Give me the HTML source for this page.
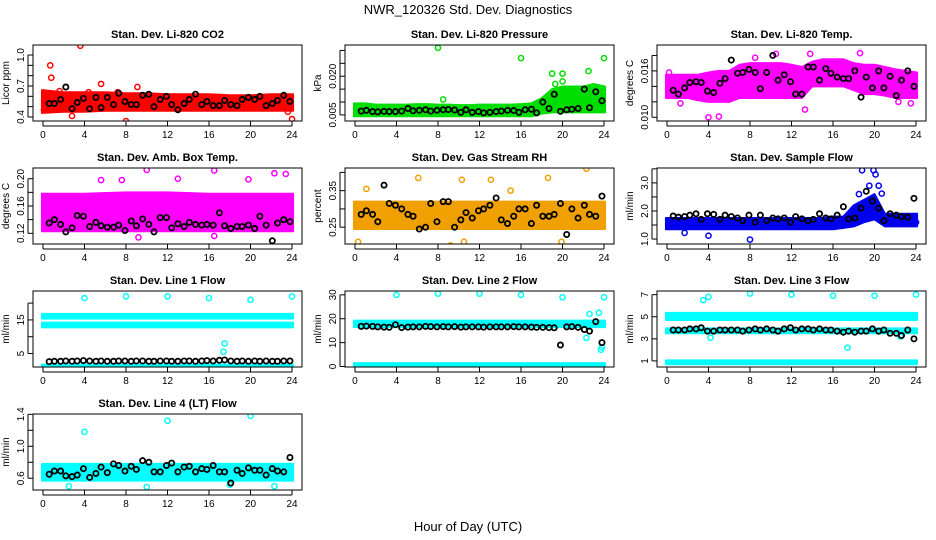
<!DOCTYPE html>
<html><head><meta charset="utf-8"><style>
html,body{margin:0;padding:0;background:#fff;}
svg{display:block;font-family:"Liberation Sans",sans-serif;}
</style></head><body>
<svg id="chart" width="936" height="540" viewBox="0 0 936 540" xmlns="http://www.w3.org/2000/svg">
<rect x="0" y="0" width="936" height="540" fill="#fff"/>
<text x="468" y="14" font-size="13" text-anchor="middle">NWR_120326  Std. Dev. Diagnostics</text>
<text x="468" y="531" font-size="13" text-anchor="middle">Hour of Day (UTC)</text>
</svg>
<script>
const bHours=[0.6,1.1,1.7,2.2,2.8,3.3,3.9,4.5,5.1,5.6,6.2,6.8,7.3,7.9,8.5,9.0,9.6,10.2,10.7,11.3,11.9,12.4,13.0,13.6,14.1,14.7,15.3,15.8,16.4,17.0,17.5,18.1,18.7,19.2,19.8,20.4,20.9,21.5,22.1,22.6,23.2,23.8];
const xTicks=[0,4,8,12,16,20,24];
const titles=["Stan. Dev. Li-820 CO2","Stan. Dev. Li-820 Pressure","Stan. Dev. Li-820 Temp.","Stan. Dev. Amb. Box Temp.","Stan. Dev. Gas Stream RH","Stan. Dev. Sample Flow","Stan. Dev. Line 1 Flow","Stan. Dev. Line 2 Flow","Stan. Dev. Line 3 Flow","Stan. Dev. Line 4 (LT) Flow"];
const yTitles=["Licor ppm","kPa","degrees C","degrees C","percent","ml/min","ml/min","ml/min","ml/min","ml/min"];
const yLims=[[0.361,1.097],[0.00265,0.0321],[0.00952,0.01935],[0.1043,0.2157],[0.204,0.412],[0.824,3.53],[1.0,23.6],[-0.2,31.6],[0.45,7.33],[0.453,1.404]];
const yTickVals=[[0.4,0.5,0.6,0.7,0.8,0.9,1.0],[0.005,0.010,0.015,0.020,0.025,0.030],[0.010,0.012,0.014,0.016,0.018],[0.12,0.14,0.16,0.18,0.20],[0.25,0.30,0.35,0.40],[1.0,1.5,2.0,2.5,3.0,3.5],[5,10,15,20],[0,10,20,30],[1,3,5,7],[0.6,0.8,1.0,1.2,1.4]];
const yTickLabels=[["0.4","","","0.7","","","1.0"],["0.005","","","0.020","",""],["0.010","","","0.016",""],["0.12","","0.16","","0.20"],["0.25","","0.35",""],["1.0","","2.0","","3.0",""],["5","","15",""],["0","10","20","30"],["1","3","5","7"],["0.6","","1.0","","1.4"]];
const colors=["#ff0000","#00dd00","#ff00ff","#ff00ff","#f0a000","#0000ee","#00ffff","#00ffff","#00ffff","#00ffff"];
const bands=[
 [[[.44,.45,.45,.46,.46,.46,.46,.46,.46,.46,.46,.46,.46],[.66,.64,.64,.64,.63,.63,.62,.62,.62,.61,.61,.62,.62]]],
 [[[.0045,.0045,.0045,.0045,.0045,.0045,.0045,.0045,.0045,.0045,.0045,.0045,.0045,.0045,.0045,.0045,.0045,.0045,.0055,.006,.006,.006,.006,.006,.006],[.0095,.0095,.009,.009,.009,.009,.0092,.0092,.009,.009,.0088,.0088,.009,.009,.009,.009,.0092,.0095,.0115,.015,.016,.016,.016,.017,.016]]],
 [[[.0125,.0125,.0125,.0122,.012,.012,.012,.0125,.0125,.0125,.0125,.0125,.0125,.0125,.014,.014,.014,.014,.0135,.013,.013,.0128,.0125,.0125,.0125],[.0155,.0155,.0155,.0155,.0158,.016,.016,.0168,.017,.017,.017,.017,.0168,.0165,.0172,.0175,.0175,.0175,.017,.0168,.0168,.0165,.0162,.016,.0158]]],
 [[[.123,.123,.123,.123,.123,.123,.123],[.178,.178,.180,.180,.178,.178,.178]]],
 [[[.245,.245,.245,.245,.245,.245,.245],[.32,.32,.32,.32,.32,.32,.32]]],
 [[[1.35,1.35,1.35,1.35,1.35,1.35,1.35,1.35,1.35,1.35,1.35,1.35,1.35,1.35,1.35,1.35,1.35,1.4,1.45,1.6,1.7,1.45,1.45,1.45,1.45],[1.75,1.75,1.75,1.75,1.75,1.75,1.75,1.75,1.75,1.75,1.75,1.75,1.75,1.75,1.75,1.75,1.8,1.8,2.2,2.4,2.6,1.9,1.9,1.9,1.9]]],
 [[[15.4,15.4,15.4,15.4,15.4,15.4,15.4],[16.8,16.8,16.8,16.8,16.8,16.8,16.8]],[[12.8,12.8,12.8,12.8,12.8,12.8,12.8],[14.2,14.2,14.2,14.2,14.2,14.2,14.2]],[[1.0,1.0,1.0,1.0,1.0,1.0,1.0],[1.7,1.7,1.7,1.7,1.7,1.7,1.7]]],
 [[[16.5,16.5,16.5,16.5,16.5,16.5,16.5],[19.2,19.2,19.2,19.2,19.2,19.2,19.2]],[[0,0,0,0,0,0,0],[1.4,1.4,1.4,1.4,1.4,1.4,1.4]]],
 [[[4.7,4.7,4.7,4.7,4.7,4.7,4.7],[5.35,5.35,5.35,5.35,5.35,5.35,5.35]],[[3.5,3.5,3.5,3.5,3.5,3.5,3.5],[3.95,3.95,3.95,3.95,3.95,3.95,3.95]],[[0.7,0.7,0.7,0.7,0.7,0.7,0.7],[1.05,1.05,1.05,1.05,1.05,1.05,1.05]]],
 [[[.57,.57,.57,.57,.57,.57,.57],[.78,.78,.78,.78,.78,.78,.78]]]
];
const outliers=[
 [[0.7,0.9],[0.8,0.78],[3.6,1.09],[5.6,0.72],[8,0.36],[9.1,0.69],[23.6,0.45],[24,0.38],[0.1,0.47],[1.6,0.65],[2.8,0.41],[4.4,0.64],[7.2,0.64]],
 [[8,.031],[16,.027],[24,.027],[22.5,.022],[19,.021],[20,.021],[8.5,.011],[19.3,.017],[20,.018]],
 [[4,.0100],[5,.0101],[1.3,.0118],[13.3,.0110],[18.6,.0183],[10.5,.0182],[22.3,.0120],[23.5,.0118],[0.2,.0158],[8.5,.0177],[13.8,.0182]],
 [[10,.213],[16.5,.212],[22.3,.208],[23.4,.207],[9.2,.114],[16.5,.116],[5.6,.198],[7.6,.198],[13,.20],[19.8,.199]],
 [[0.3,.21],[1.1,.355],[6.1,.385],[10.3,.38],[13.1,.38],[18.6,.385],[22.3,.41],[9.2,.20],[10.5,.21],[15,.35],[19.9,.21]],
 [[8,0.98],[4,1.12],[18.8,3.45],[19.9,3.45],[20.1,3.3],[19.5,2.9],[20.4,2.9],[20.7,2.62],[18.5,2.6],[1.7,1.22],[24,1.6]],
 [[4,21.5],[8,22],[12,22],[16,21.5],[20,21],[24,22],[17.5,8],[17.4,5.5]],
 [[4,30],[8,30.5],[12,30.5],[16,30],[20,29],[24,29],[22.3,12],[22.6,22],[23.5,22.5],[23.8,8],[23.7,7]],
 [[3.5,6.5],[4,6.8],[8,7.1],[12,7],[16,6.9],[20,6.9],[24,7],[4.2,3.1],[17.4,2.2],[22.5,3.2]],
 [[4,1.18],[12,1.32],[20,1.38],[2.5,.50],[10,.49],[18,.52],[22.3,.5]]
];
const blackVals=[
 [.53,.53,.57,.69,.48,.54,.58,.48,.59,.49,.59,.52,.63,.55,.52,.52,.61,.62,.50,.57,.60,.52,.47,.53,.57,.62,.52,.55,.51,.51,.56,.52,.51,.57,.59,.57,.60,.51,.53,.56,.61,.55],
 [.0065,.0068,.0063,.0062,.0064,.0063,.0063,.0065,.0075,.0066,.0068,.0070,.0065,.0068,.0070,.0071,.0069,.0060,.0070,.0060,.0063,.0058,.0060,.0063,.0065,.0068,.0067,.0060,.0070,.0072,.0058,.0100,.0075,.0130,.0064,.0070,.0072,.0075,.0150,.0078,.0140,.0105],
 [.0135,.013,.0138,.0145,.0146,.0145,.0134,.0132,.0144,.0150,.0174,.0157,.0158,.0162,.0158,.0137,.0158,.0180,.0148,.0155,.0146,.0130,.0130,.0165,.0165,.0148,.0163,.0157,.0152,.0150,.0150,.0160,.0126,.0152,.0138,.0160,.0138,.0153,.0128,.0148,.0160,.0140],
 [.135,.140,.133,.122,.128,.146,.145,.130,.136,.131,.129,.129,.132,.124,.138,.131,.141,.133,.122,.143,.143,.128,.134,.130,.136,.133,.132,.133,.132,.150,.131,.127,.130,.130,.132,.127,.145,.132,.109,.135,.140,.137],
 [.285,.295,.285,.265,.365,.315,.31,.30,.285,.28,.245,.25,.315,.265,.32,.32,.25,.27,.29,.275,.295,.30,.31,.33,.27,.26,.28,.30,.30,.26,.31,.28,.28,.285,.315,.23,.30,.275,.31,.285,.28,.335],
 [1.82,1.78,1.8,1.85,1.9,1.7,1.9,1.88,1.7,1.85,1.8,1.75,1.65,1.85,1.6,1.85,1.65,1.75,1.72,1.75,1.6,1.8,1.72,1.65,1.7,1.9,1.75,1.72,1.85,2.15,1.72,1.75,2.1,2.7,2.35,2.1,1.65,1.9,1.85,1.8,1.78,2.45],
 [2.6,2.7,2.7,2.8,2.7,2.8,2.9,2.8,2.7,2.8,2.7,2.7,2.8,2.8,2.7,2.8,2.8,2.7,2.7,2.8,2.8,2.7,2.7,2.8,2.8,2.7,2.8,2.9,2.8,3.0,3.1,2.8,2.7,2.8,2.7,2.8,2.7,2.8,2.7,2.7,2.8,2.8],
 [16.8,16.9,16.8,16.6,16.5,16.4,17.5,16.3,16.5,16.6,16.6,16.8,16.7,16.6,16.7,16.6,16.7,16.5,16.6,16.6,16.6,16.5,16.6,16.6,16.6,16.6,16.7,16.6,16.6,16.5,16.4,16.4,16.3,16.2,9.0,16.6,16.7,16.4,15.5,14.8,18.8,10.0],
 [3.8,3.8,3.8,3.9,3.9,4.0,3.7,3.7,3.8,3.8,3.8,3.8,3.7,3.8,3.9,3.8,3.9,3.8,3.7,3.9,4.0,3.8,3.9,3.9,3.8,3.9,3.8,3.8,3.7,3.6,3.7,3.6,3.7,3.7,3.9,3.7,3.8,3.5,3.5,3.3,3.8,3.0],
 [.65,.69,.69,.63,.62,.64,.72,.61,.66,.74,.67,.78,.76,.69,.75,.71,.82,.80,.68,.68,.76,.79,.68,.74,.75,.68,.72,.71,.76,.68,.68,.54,.70,.66,.73,.70,.70,.64,.72,.69,.68,.86]
];

const NS="http://www.w3.org/2000/svg";
const svg=document.getElementById('chart');
function mk(tag,attrs,parent){const e=document.createElementNS(NS,tag);for(const k in attrs)e.setAttribute(k,attrs[k]);(parent||svg).appendChild(e);return e;}
const colLeft=[33,345,657], rowTop=[45,168,291,414], W=269, H=76;
for(let p=0;p<10;p++){
  const L=colLeft[p%3], T=rowTop[Math.floor(p/3)];
  const g=mk('g',{});
  
  
  const [y0,y1]=yLims[p];
  const sx=h=>L+W*(h+0.96)/25.92;
  const sy=v=>T+H-H*(v-y0)/(y1-y0);
  const clip=mk('clipPath',{id:'c'+p},g);mk('rect',{x:L,y:T,width:W,height:H},clip);
  const data=mk('g',{'clip-path':'url(#c'+p+')'},g);
  const col=colors[p];
  bands[p].forEach(b=>{
    const lo=b[0],hi=b[1],n=lo.length;let pts=[];
    for(let i=0;i<n;i++)pts.push(sx(24*i/(n-1)+(i==0?-0.1:i==n-1?0.1:0))+','+sy(hi[i]));
    for(let i=n-1;i>=0;i--)pts.push(sx(24*i/(n-1)+(i==0?-0.1:i==n-1?0.1:0))+','+sy(lo[i]));
    const pg=mk('polygon',{points:pts.join(' '),fill:col,stroke:col,'stroke-width':2,'stroke-linejoin':'round'},data);
    
    
  });
  outliers[p].forEach(o=>{
    const c=mk('circle',{cx:sx(o[0]),cy:sy(o[1]),r:2.6,fill:'none',stroke:col,'stroke-width':1.5},data);
    
    
  });
  blackVals[p].forEach((v,i)=>{
    const c=mk('circle',{cx:sx(bHours[i]),cy:sy(v),r:2.6,fill:'none',stroke:'#000','stroke-width':1.8},data);
    
    
  });
  mk('rect',{x:L,y:T,width:W,height:H,fill:'none',stroke:'#000','stroke-width':1},g);
  const t=mk('text',{x:L+W/2,y:T-7,'font-size':11,'font-weight':'bold','text-anchor':'middle'},g);t.textContent=titles[p];
  
  
  xTicks.forEach(h=>{
    mk('line',{x1:sx(h),x2:sx(h),y1:T+H,y2:T+H+5,stroke:'#000'},g);
    const l=mk('text',{x:sx(h),y:T+H+17,'font-size':10,'text-anchor':'middle'},g);l.textContent=h;
    
    
  });
  mk('line',{x1:sx(0),x2:sx(24),y1:T+H+5,y2:T+H+5,stroke:'#000'},g);
  const tv=yTickVals[p];
  tv.forEach((v,i)=>{
    mk('line',{x1:L-5,x2:L,y1:sy(v),y2:sy(v),stroke:'#000'},g);
    if(yTickLabels[p][i]){const l=mk('text',{x:L-9,y:sy(v),'font-size':10,'text-anchor':'middle',transform:'rotate(-90 '+(L-9)+' '+sy(v)+')'},g);l.textContent=yTickLabels[p][i];
      
      }
  });
  mk('line',{x1:L-5,x2:L-5,y1:sy(tv[0]),y2:sy(tv[tv.length-1]),stroke:'#000'},g);
  const yt=mk('text',{x:L-24,y:T+H/2,'font-size':10,'text-anchor':'middle',transform:'rotate(-90 '+(L-24)+' '+(T+H/2)+')'},g);yt.textContent=yTitles[p];
  
  
}
</script>
</body></html>
